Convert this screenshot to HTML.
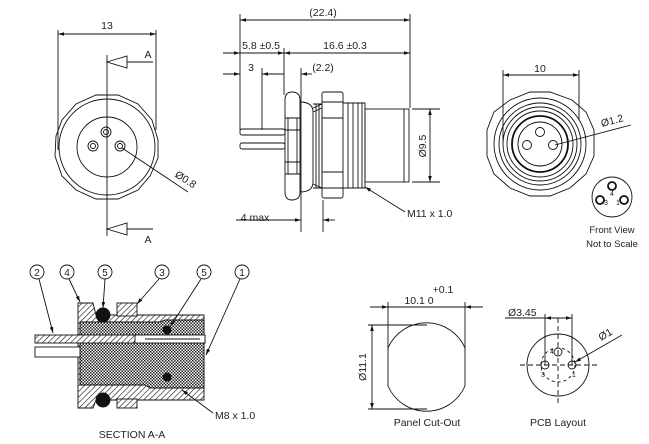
<!DOCTYPE html>
<html><head><meta charset="utf-8"><style>
html,body{margin:0;padding:0;background:#fff;}
svg{display:block;font-family:"Liberation Sans",sans-serif;}
text{fill:#222;}
</style></head><body>
<svg width="649" height="444" viewBox="0 0 649 444" xmlns="http://www.w3.org/2000/svg">
<defs>
<marker id="a" viewBox="0 0 10 6" refX="10" refY="3" markerWidth="8" markerHeight="4" orient="auto-start-reverse"><path d="M0,0L10,3L0,6z" fill="#111"/></marker>
<pattern id="h" width="4" height="4" patternUnits="userSpaceOnUse" patternTransform="rotate(45)"><rect width="4" height="4" fill="#fff"/><line x1="0" y1="0" x2="0" y2="4" stroke="#222" stroke-width="1.3"/></pattern>
<pattern id="x" width="3" height="3" patternUnits="userSpaceOnUse"><rect width="3" height="3" fill="#fff"/><rect width="1.5" height="1.5" fill="#222"/><rect x="1.5" y="1.5" width="1.5" height="1.5" fill="#222"/></pattern>
</defs>
<rect width="649" height="444" fill="#fff"/>
<g stroke="#111" fill="none" stroke-width="0.9">
<!-- LEFT VIEW -->
<line x1="58" y1="34" x2="156" y2="34" marker-start="url(#a)" marker-end="url(#a)"/>
<line x1="58" y1="30" x2="58" y2="150"/><line x1="156" y1="30" x2="156" y2="130"/>
<line x1="107" y1="55" x2="107" y2="236"/>
<path d="M107,62 L127,56 L127,68 Z"/><line x1="127" y1="62" x2="153" y2="62"/>
<path d="M107,229 L127,223 L127,235 Z"/><line x1="127" y1="229" x2="153" y2="229"/>
<path d="M96,95 L118,95 L138,104 L152,120 L158,140 L158,158 L150,176 L138,190 L118,199 L96,199 L76,190 L62,176 L55,156 L56,136 L62,120 L76,104 Z"/>
<circle cx="107" cy="147" r="48"/>
<circle cx="107" cy="147" r="30"/>
<circle cx="106" cy="132" r="5"/><circle cx="106" cy="132" r="2.5"/>
<circle cx="93" cy="146" r="5"/><circle cx="93" cy="146" r="2.5"/>
<circle cx="120" cy="146" r="5"/><circle cx="120" cy="146" r="2.5"/>
<line x1="122" y1="148" x2="188" y2="192"/>
<!-- SIDE VIEW -->
<line x1="240" y1="20" x2="410" y2="20" marker-start="url(#a)" marker-end="url(#a)"/>
<line x1="240" y1="14" x2="240" y2="130"/><line x1="410" y1="14" x2="410" y2="108"/>
<line x1="223" y1="53" x2="240" y2="53" marker-end="url(#a)"/>
<line x1="240" y1="53" x2="284" y2="53" marker-end="url(#a)"/>
<line x1="284" y1="53" x2="410" y2="53" marker-start="url(#a)" marker-end="url(#a)"/>
<line x1="223" y1="74" x2="240" y2="74" marker-end="url(#a)"/>
<line x1="262" y1="74" x2="284" y2="74" marker-start="url(#a)"/>
<line x1="301" y1="74" x2="312" y2="74" marker-start="url(#a)"/>
<line x1="262" y1="68" x2="262" y2="130"/>
<line x1="284" y1="48" x2="284" y2="95"/>
<line x1="301" y1="68" x2="301" y2="232"/>
<line x1="323" y1="200" x2="323" y2="232"/>
<line x1="236" y1="220" x2="301" y2="220" marker-end="url(#a)"/>
<line x1="323" y1="220" x2="335" y2="220" marker-start="url(#a)"/>
<rect x="240" y="129" width="45" height="6" rx="2"/><rect x="240" y="143" width="45" height="6" rx="2"/>
<path d="M285,100 Q285,92 292,92 Q300,92 300,100 L300,192 Q300,200 292,200 Q285,200 285,192 Z"/>
<path d="M285,118 L300,118 M285,130 L300,130 M285,162 L300,162 M285,174 L300,174 M288,118 L288,174 M297,118 L297,174"/>
<path d="M300,102 Q313,102 313,112 L313,182 Q313,192 300,192"/>
<path d="M313,104 L322,104 L322,188 L313,188 M313,108 L322,104 M313,112 L322,108 M313,184 L322,188 M316,104 L316,188 M319,104 L319,188"/>
<rect x="322" y="92" width="21" height="106" rx="2"/>
<path d="M322,102 L343,102 M322,118 L343,118 M322,172 L343,172 M322,188 L343,188"/>
<path d="M343,103 L365,103 L365,188 L343,188 M348,103 L348,188 M353,103 L353,188 M358,103 L358,188 M362,103 L362,188"/>
<rect x="365" y="109" width="44" height="73"/>
<line x1="404" y1="109" x2="404" y2="182"/>
<line x1="412" y1="109" x2="440" y2="109"/><line x1="412" y1="182" x2="440" y2="182"/>
<line x1="430" y1="109" x2="430" y2="182" marker-start="url(#a)" marker-end="url(#a)"/>
<line x1="405" y1="212" x2="365" y2="187" marker-end="url(#a)"/>
<!-- TOP RIGHT VIEW -->
<line x1="503" y1="75" x2="579" y2="75" marker-start="url(#a)" marker-end="url(#a)"/>
<line x1="503" y1="70" x2="503" y2="143"/><line x1="579" y1="70" x2="579" y2="120"/>
<path d="M530,92 L550,92 L572,100 L586,112 L594,130 L594,156 L586,174 L570,188 L550,196 L530,196 L510,188 L494,174 L487,156 L487,130 L494,112 L510,100 Z"/>
<circle cx="540" cy="144" r="46"/><circle cx="540" cy="144" r="41"/><circle cx="540" cy="144" r="37"/>
<circle cx="540" cy="144" r="33"/><circle cx="540" cy="144" r="28" stroke-width="1.8"/><circle cx="540" cy="144" r="22"/>
<circle cx="540" cy="132" r="4.5"/><circle cx="527" cy="145" r="4.5"/><circle cx="553" cy="145" r="4.5"/>
<line x1="555" y1="145" x2="631" y2="125"/>
<circle cx="612" cy="197" r="20"/>
<circle cx="612" cy="186" r="4" stroke-width="1.8"/><circle cx="600" cy="200" r="4" stroke-width="1.8"/><circle cx="624" cy="200" r="4" stroke-width="1.8"/>
<!-- PANEL CUT-OUT -->
<line x1="370" y1="307" x2="388" y2="307" marker-end="url(#a)"/>
<line x1="388" y1="307" x2="465" y2="307"/>
<line x1="483" y1="307" x2="465" y2="307" marker-end="url(#a)"/>
<line x1="388" y1="302" x2="388" y2="350"/><line x1="465" y1="302" x2="465" y2="350"/>
<path d="M388,348 A42,42 0 0 1 465,348 L465,386 A42,42 0 0 1 388,386 Z"/>
<line x1="368" y1="325" x2="427" y2="325"/><line x1="368" y1="409" x2="427" y2="409"/>
<line x1="372" y1="325" x2="372" y2="409" marker-start="url(#a)" marker-end="url(#a)"/>
<!-- PCB -->
<circle cx="558" cy="365" r="31"/>
<line x1="520" y1="365" x2="600" y2="365" stroke-dasharray="5,3"/>
<line x1="558" y1="318" x2="558" y2="405" stroke-dasharray="5,3"/>
<circle cx="558" cy="365" r="17" stroke-dasharray="3,3"/>
<circle cx="545" cy="365" r="4"/><circle cx="572" cy="365" r="4"/><circle cx="558" cy="352" r="4"/>
<line x1="505" y1="318" x2="545" y2="318"/>
<line x1="545" y1="318" x2="572" y2="318" marker-start="url(#a)" marker-end="url(#a)"/>
<line x1="545" y1="314" x2="545" y2="365"/><line x1="572" y1="314" x2="572" y2="365"/>
<line x1="622" y1="335" x2="575" y2="362" marker-end="url(#a)"/>
<!-- SECTION A-A -->
<path d="M78,303 L93,303 L96,315 L204,315 L204,400 L96,400 L93,408 L78,408 Z" fill="url(#h)"/>
<rect x="117" y="303" width="20" height="13" fill="url(#h)"/>
<rect x="117" y="399" width="20" height="9" fill="url(#h)"/>
<path d="M80,322 L160,322 L165,320 L204,320 L204,388 L150,388 L145,385 L80,385 Z" fill="url(#x)"/>
<rect x="35" y="335" width="170" height="8" fill="url(#h)"/>
<rect x="135" y="335" width="70" height="8" fill="#fff"/>
<line x1="145" y1="339" x2="200" y2="339"/>
<rect x="35" y="347" width="45" height="10" fill="#fff"/>
<circle cx="103" cy="315" r="7" fill="#111"/><circle cx="103" cy="400" r="7" fill="#111"/>
<circle cx="167" cy="330" r="4" fill="#111"/><circle cx="167" cy="377" r="4" fill="#111"/>
<circle cx="37" cy="272" r="7"/><circle cx="67" cy="272" r="7"/><circle cx="105" cy="272" r="7"/>
<circle cx="162" cy="272" r="7"/><circle cx="204" cy="272" r="7"/><circle cx="242" cy="272" r="7"/>
<line x1="39" y1="279" x2="53" y2="333" marker-end="url(#a)"/>
<line x1="69" y1="279" x2="80" y2="302" marker-end="url(#a)"/>
<line x1="105" y1="279" x2="103" y2="308" marker-end="url(#a)"/>
<line x1="159" y1="279" x2="137" y2="304" marker-end="url(#a)"/>
<line x1="201" y1="279" x2="170" y2="327" marker-end="url(#a)"/>
<line x1="240" y1="279" x2="206" y2="355" marker-end="url(#a)"/>
<line x1="213" y1="413" x2="182" y2="390" marker-end="url(#a)"/>
</g>
<g font-size="10.5">
<text x="107" y="29" text-anchor="middle">13</text>
<text x="148" y="58" text-anchor="middle">A</text>
<text x="148" y="243" text-anchor="middle">A</text>
<text x="173" y="180" transform="rotate(33 180 180)">Ø0.8</text>
<text x="323" y="16" text-anchor="middle">(22.4)</text>
<text x="261" y="49" text-anchor="middle">5.8 ±0.5</text>
<text x="345" y="49" text-anchor="middle">16.6 ±0.3</text>
<text x="251" y="71" text-anchor="middle">3</text>
<text x="323" y="71" text-anchor="middle">(2.2)</text>
<text x="426" y="146" text-anchor="middle" transform="rotate(-90 426 146)">Ø9.5</text>
<text x="407" y="217">M11 x 1.0</text>
<text x="255" y="221" text-anchor="middle">4 max</text>
<text x="540" y="72" text-anchor="middle">10</text>
<text x="602" y="127" transform="rotate(-15 602 127)">Ø1.2</text>
<text x="612" y="233" text-anchor="middle" font-size="9.5">Front View</text>
<text x="612" y="247" text-anchor="middle" font-size="9.5">Not to Scale</text>
<text x="419" y="304" text-anchor="middle">10.1  0</text>
<text x="443" y="293" text-anchor="middle">+0.1</text>
<text x="366" y="367" text-anchor="middle" transform="rotate(-90 366 367)">Ø11.1</text>
<text x="427" y="426" text-anchor="middle">Panel Cut-Out</text>
<text x="508" y="316">Ø3.45</text>
<text x="601" y="341" transform="rotate(-30 601 341)">Ø1</text>
<text x="558" y="426" text-anchor="middle">PCB Layout</text>
<text x="215" y="419">M8 x 1.0</text>
<text x="132" y="438" text-anchor="middle">SECTION A-A</text>
</g>
<g font-size="7" text-anchor="middle">
<text x="612" y="196">4</text><text x="606" y="205">3</text><text x="618" y="205">1</text>
<text x="552" y="354">4</text><text x="543" y="377">3</text><text x="574" y="377">1</text>
</g>
<g font-size="10" text-anchor="middle">
<text x="37" y="276">2</text><text x="67" y="276">4</text><text x="105" y="276">5</text>
<text x="162" y="276">3</text><text x="204" y="276">5</text><text x="242" y="276">1</text>
</g>
</svg>
</body></html>
